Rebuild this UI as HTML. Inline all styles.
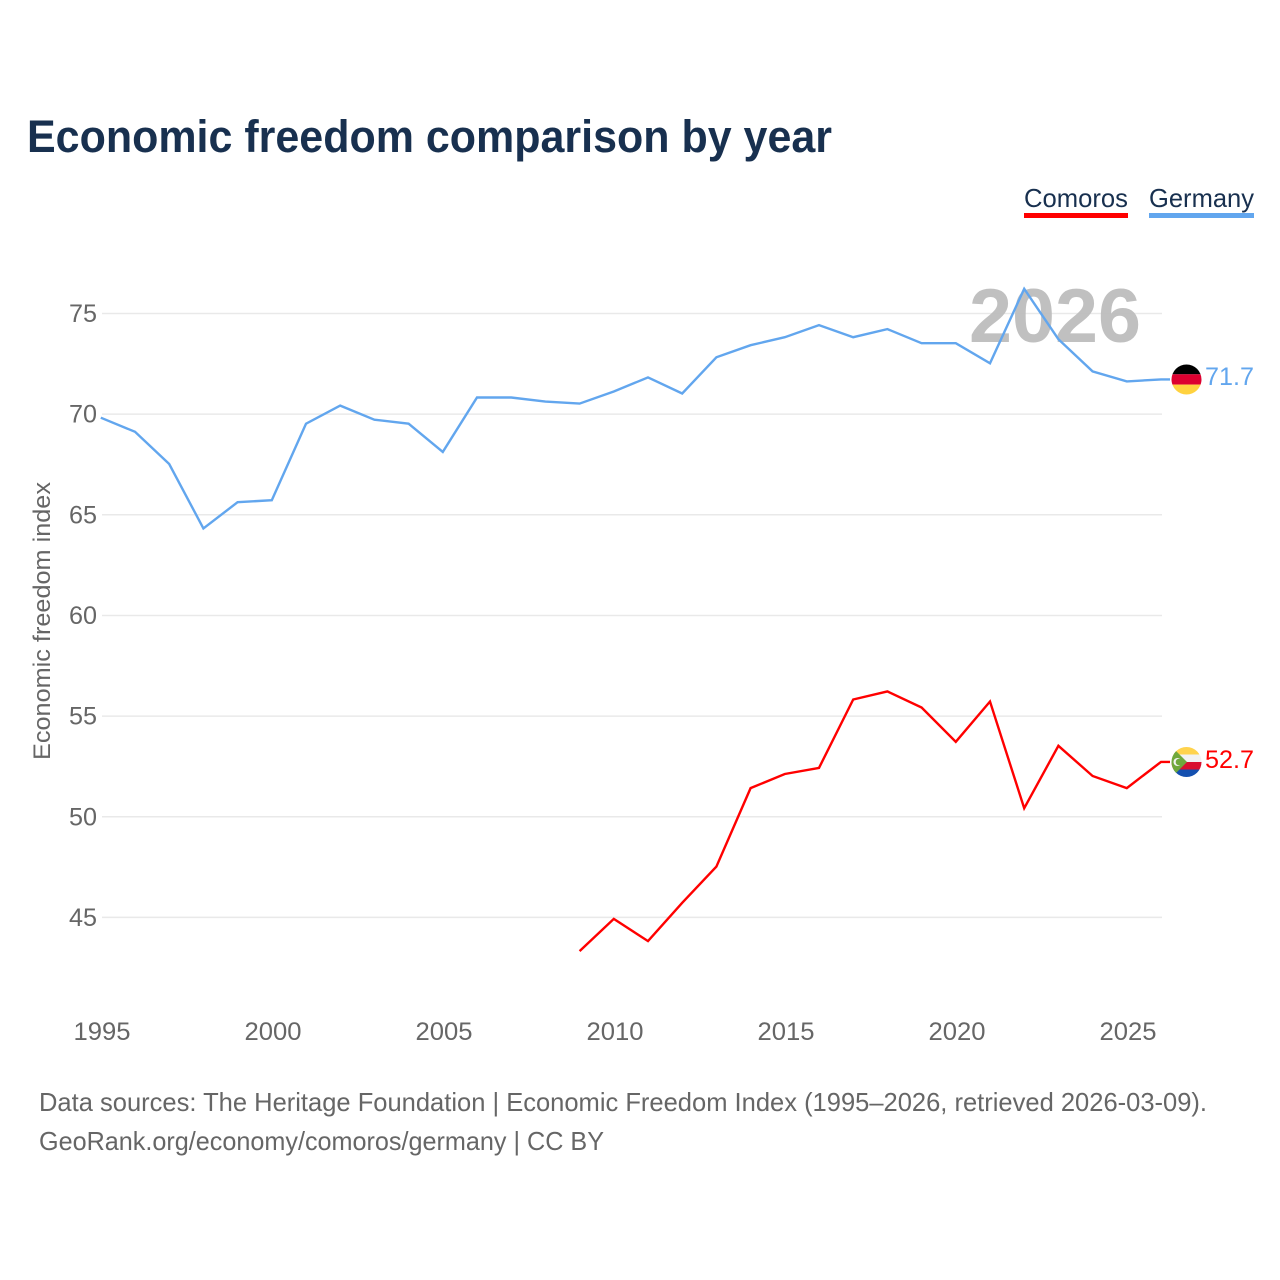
<!DOCTYPE html>
<html lang="en">
<head>
<meta charset="utf-8">
<title>Economic freedom comparison by year</title>
<style>
html,body{margin:0;padding:0;background:#fff;width:1280px;height:1280px;overflow:hidden}
svg{display:block}
text{font-family:"Liberation Sans",sans-serif}
</style>
</head>
<body>
<svg id="chart" xmlns="http://www.w3.org/2000/svg" width="1280" height="1280" viewBox="0 0 1280 1280">
  <rect width="1280" height="1280" fill="#fff"/>
  <text x="27" y="152" font-size="45" font-weight="700" fill="#18304f" textLength="805" lengthAdjust="spacingAndGlyphs">Economic freedom comparison by year</text>
  <g id="grid"></g>
  <text x="1055" y="342" font-size="76" font-weight="700" fill="#bdbdbd" fill-opacity="0.95" text-anchor="middle" textLength="172" lengthAdjust="spacingAndGlyphs">2026</text>
  <g id="y-ticks"></g>
  <g id="x-ticks"></g>
  <text transform="translate(50,621) rotate(-90)" font-size="24" fill="#666" text-anchor="middle" textLength="278" lengthAdjust="spacingAndGlyphs">Economic freedom index</text>
  <g id="series"></g>

  <g>
    <text x="1024" y="207" font-size="26" fill="#18304f" textLength="104" lengthAdjust="spacingAndGlyphs">Comoros</text>
    <rect x="1024" y="213" width="104" height="5" fill="#ff0000"/>
  </g>
  <g>
    <text x="1149" y="207" font-size="26" fill="#18304f" textLength="105" lengthAdjust="spacingAndGlyphs">Germany</text>
    <rect x="1149" y="213" width="105" height="5" fill="#62a6ee"/>
  </g>

  <defs>
    <clipPath id="flag-clip-de"><circle cx="1186.5" cy="379.5" r="15"/></clipPath>
    <clipPath id="flag-clip-km"><circle cx="1186.5" cy="762" r="15"/></clipPath>
  </defs>
  <g clip-path="url(#flag-clip-de)">
    <rect x="1171" y="364" width="31" height="10.3" fill="#000"/>
    <rect x="1171" y="374.3" width="31" height="10.3" fill="#dd0030"/>
    <rect x="1171" y="384.6" width="31" height="10.4" fill="#ffd23f"/>
  </g>
  <g clip-path="url(#flag-clip-km)">
    <rect x="1171" y="747" width="31" height="7.5" fill="#ffd34d"/>
    <rect x="1171" y="754.5" width="31" height="7.5" fill="#f2f2f2"/>
    <rect x="1171" y="762" width="31" height="7.5" fill="#d9102f"/>
    <rect x="1171" y="769.5" width="31" height="7.5" fill="#1450b0"/>
    <polygon points="1171,746 1187,762 1171,778" fill="#6fa83c"/>
    <circle cx="1177.5" cy="762" r="4" fill="#f2f2f2"/>
    <circle cx="1179" cy="762" r="3.3" fill="#6fa83c"/>
  </g>
  <text x="1205" y="385" font-size="25" fill="#62a6ee" textLength="49" lengthAdjust="spacingAndGlyphs">71.7</text>
  <text x="1205" y="768" font-size="25" fill="#ff0000" textLength="49" lengthAdjust="spacingAndGlyphs">52.7</text>

  <text x="39" y="1111" font-size="26" fill="#666" textLength="1168" lengthAdjust="spacingAndGlyphs">Data sources: The Heritage Foundation | Economic Freedom Index (1995–2026, retrieved 2026-03-09).</text>
  <text x="39" y="1150" font-size="26" fill="#666" textLength="565" lengthAdjust="spacingAndGlyphs">GeoRank.org/economy/comoros/germany | CC BY</text>
</svg>
<script>
const yTickValues = [75, 70, 65, 60, 55, 50, 45];
const xTickYears = [1995, 2000, 2005, 2010, 2015, 2020, 2025];
const germanyYears = [1995,1996,1997,1998,1999,2000,2001,2002,2003,2004,2005,2006,2007,2008,2009,2010,2011,2012,2013,2014,2015,2016,2017,2018,2019,2020,2021,2022,2023,2024,2025,2026];
const germanyValues = [69.8,69.1,67.5,64.3,65.6,65.7,69.5,70.4,69.7,69.5,68.1,70.8,70.8,70.6,70.5,71.1,71.8,71.0,72.8,73.4,73.8,74.4,73.8,74.2,73.5,73.5,72.5,76.2,73.7,72.1,71.6,71.7];
const comorosYears = [2009,2010,2011,2012,2013,2014,2015,2016,2017,2018,2019,2020,2021,2022,2023,2024,2025,2026];
const comorosValues = [43.3,44.9,43.8,45.7,47.5,51.4,52.1,52.4,55.8,56.2,55.4,53.7,55.7,50.4,53.5,52.0,51.4,52.7];

const NS = 'http://www.w3.org/2000/svg';
function xScale(year) { return 100.8 + (year - 1995) * 34.2; }
function yScale(value) { return 313.5 + (75 - value) * 20.13; }
function make(tag, attrs, parent, text) {
  const el = document.createElementNS(NS, tag);
  for (const k in attrs) el.setAttribute(k, attrs[k]);
  if (text !== undefined) el.textContent = text;
  parent.appendChild(el);
  return el;
}
const gridG = document.getElementById('grid');
const yG = document.getElementById('y-ticks');
const xG = document.getElementById('x-ticks');
const seriesG = document.getElementById('series');

yTickValues.forEach(function (v) {
  const line = make('line', { x1: 102, x2: 1162, y1: yScale(v), y2: yScale(v), stroke: '#e9e9e9', 'stroke-width': 1.5 }, gridG);
  
  
  const label = make('text', { x: 97, y: yScale(v) + 8.5, 'font-size': 25, fill: '#666', 'text-anchor': 'end', textLength: 28, lengthAdjust: 'spacingAndGlyphs' }, yG, String(v));
  
  
});
xTickYears.forEach(function (y) {
  const label = make('text', { x: xScale(y) + 1.2, y: 1040, 'font-size': 25, fill: '#666', 'text-anchor': 'middle', textLength: 57, lengthAdjust: 'spacingAndGlyphs' }, xG, String(y));
  
  
});
function drawSeries(years, values, color, name) {
  const pts = years.map(function (y, i) { return xScale(y).toFixed(1) + ',' + (yScale(values[i]) - 0.5).toFixed(1); });
  const lastY = (yScale(values[values.length - 1]) - 0.5).toFixed(1);
  pts.push('1170,' + lastY);
  const line = make('polyline', { points: pts.join(' '), fill: 'none', stroke: color, 'stroke-width': 2.4, 'stroke-linejoin': 'miter' }, seriesG);
  
  
}
drawSeries(germanyYears, germanyValues, '#62a6ee', 'line-germany');
drawSeries(comorosYears, comorosValues, '#ff0000', 'line-comoros');
</script>
</body>
</html>
